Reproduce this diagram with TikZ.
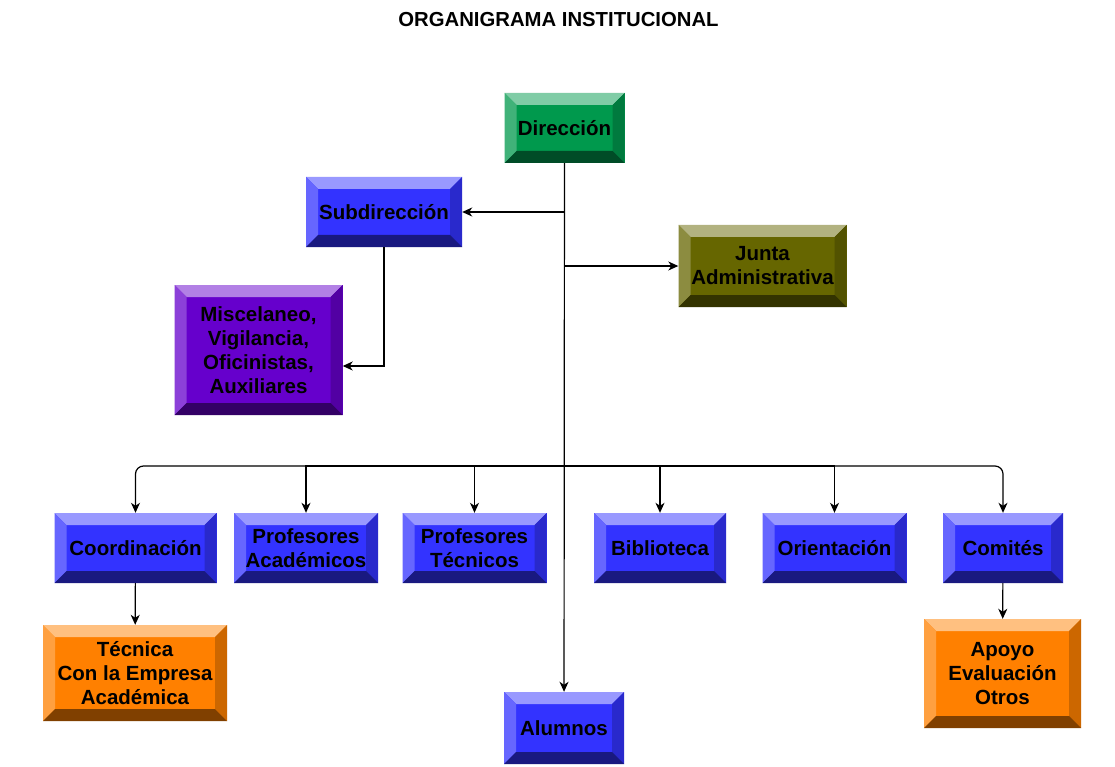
\documentclass[tikz,border=0pt]{standalone}
\usepackage{fontspec}
\setmainfont{Liberation Sans}
\usetikzlibrary{arrows.meta}
\definecolor{verde}{HTML}{00994D}
\definecolor{azul}{HTML}{3333FF}
\definecolor{oliva}{HTML}{666600}
\definecolor{morado}{HTML}{6600CC}
\definecolor{naranja}{HTML}{FF8000}
\begin{document}
\begin{tikzpicture}[x=1pt,y=-1pt,
  bevelbox/.style={fill=#1, inner sep=0pt, align=center, text=black,
    font=\fontsize{20.5}{24}\selectfont\bfseries,
    path picture={
      \path (path picture bounding box.north west) coordinate (pnw)
            (path picture bounding box.north east) coordinate (pne)
            (path picture bounding box.south west) coordinate (psw)
            (path picture bounding box.south east) coordinate (pse);
      \fill[#1!50!white] (pnw) -- (pne) -- ([shift={(-12pt,-12pt)}]pne) -- ([shift={(12pt,-12pt)}]pnw) -- cycle;
      \fill[#1!75!white] (pnw) -- (psw) -- ([shift={(12pt,12pt)}]psw) -- ([shift={(12pt,-12pt)}]pnw) -- cycle;
      \fill[#1!80!black] (pne) -- (pse) -- ([shift={(-12pt,12pt)}]pse) -- ([shift={(-12pt,-12pt)}]pne) -- cycle;
      \fill[#1!50!black] (psw) -- (pse) -- ([shift={(-12pt,12pt)}]pse) -- ([shift={(12pt,12pt)}]psw) -- cycle;
    }},
  link/.style={line width=1.2pt, -{Stealth[length=10pt,width=9pt,inset=3pt]}}]
\fill[white] (0,0) rectangle (1115,767);

\node[font=\fontsize{20.3}{24}\selectfont\bfseries] (titulo) at (558.5,20) {ORGANIGRAMA INSTITUCIONAL};

\node[bevelbox=verde, minimum width=120pt, minimum height=70pt] (dir) at (564.5,128) {Dirección};
\node[bevelbox=azul, minimum width=156pt, minimum height=70pt] (sub) at (384,212) {Subdirección};
\node[bevelbox=oliva, minimum width=168pt, minimum height=82pt] (junta) at (762.5,266) {Junta\\Administrativa};
\node[bevelbox=morado, minimum width=168pt, minimum height=130pt] (misc) at (258.5,350) {Miscelaneo,\\Vigilancia,\\Oficinistas,\\Auxiliares};

\node[bevelbox=azul, minimum width=162pt, minimum height=70pt] (coord) at (135.5,548) {Coordinación};
\node[bevelbox=azul, minimum width=144pt, minimum height=70pt] (acad) at (306,548) {Profesores\\Académicos};
\node[bevelbox=azul, minimum width=144pt, minimum height=70pt] (tecn) at (474.5,548) {Profesores\\Técnicos};
\node[bevelbox=azul, minimum width=132pt, minimum height=70pt] (bib) at (660,548) {Biblioteca};
\node[bevelbox=azul, minimum width=144pt, minimum height=70pt] (ori) at (834.5,548) {Orientación};
\node[bevelbox=azul, minimum width=120pt, minimum height=70pt] (com) at (1003,548) {Comités};

\node[bevelbox=naranja, minimum width=184pt, minimum height=96pt] (emp) at (135,673) {Técnica\\Con la Empresa\\Académica};
\node[bevelbox=naranja, minimum width=157pt, minimum height=109pt] (apoyo) at (1002.5,673.5) {Apoyo\\Evaluación\\Otros};
\node[bevelbox=azul, minimum width=120pt, minimum height=72pt] (alum) at (564,728) {Alumnos};

\coordinate (bus) at (564.5,466);

\draw[link] (dir) -- (alum);
\draw[link] (dir.south) |- (sub);
\draw[link] (dir.south) |- (junta);
\draw[link] (sub) |- ([yshift=-16pt]misc.east);

\draw[link, rounded corners=8pt] (bus) -| (coord);
\draw[link] (bus) -| (acad);
\draw[link] (bus) -| (tecn);
\draw[link] (bus) -| (bib);
\draw[link] (bus) -| (ori);
\draw[link, rounded corners=8pt] (bus) -| (com);

\draw[link] (coord) -- (emp);
\draw[link] (com) -- (apoyo);
\end{tikzpicture}
\end{document}
